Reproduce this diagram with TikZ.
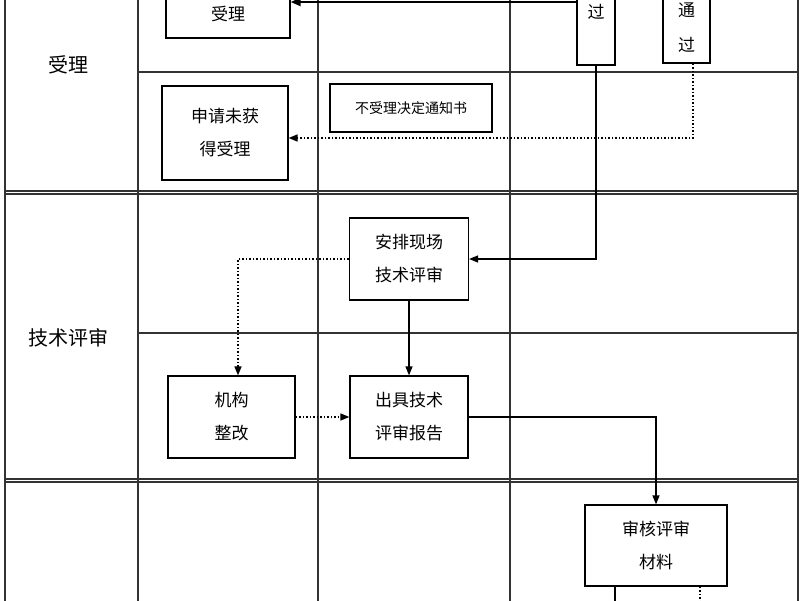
\documentclass[tikz,border=0pt]{standalone}
\usepackage{fontspec}
\setmainfont{Noto Sans CJK SC}
\usetikzlibrary{arrows.meta}
\begin{document}
\begin{tikzpicture}[x=1pt,y=-1pt,
  grid/.style={line width=1.2pt,black!80},
  box/.style={draw,line width=1.2pt,align=center,font=\fontsize{17}{33}\selectfont,inner sep=0pt},
  txt/.style={font=\fontsize{17}{33}\selectfont,inner sep=0pt},
  lane/.style={font=\fontsize{20}{24}\selectfont},
  sol/.style={line width=1.2pt,-{Triangle[length=9pt,width=7pt]}},
  dot/.style={line width=1.5pt,dotted,-{Triangle[length=9pt,width=7pt]}}]
\useasboundingbox (0,0) rectangle (800,600);
\fill[white] (0,0) rectangle (800,600);
% grid
\draw[grid] (5,-5) -- (5,605);
\foreach \x in {138,318,510}{\draw[grid] (\x,-5) -- (\x,605);}
\draw[grid] (798,-5) -- (798,605);
\draw[grid] (138,72) -- (798,72);
\draw[grid] (138,333) -- (798,333);
\draw[grid] (5,191) -- (798,191);
\draw[grid] (5,194) -- (798,194);
\draw[grid] (5,479) -- (798,479);
\draw[grid] (5,482) -- (798,482);
% lanes
\node[lane] (l1) at (68,65) {受理};
\node[lane] (l2) at (68,338) {技术评审};
% boxes
\node[box,fill=white,minimum width=124pt,minimum height=58pt] (sl) at (228,9) {};
\node[txt] (slt) at (228,14) {受理};
\node[box,fill=white,minimum width=38pt,minimum height=90pt] (guo) at (596,20) {};
\node[txt] (guot) at (596,12) {过};
\node[box,fill=white,minimum width=47pt,minimum height=90pt] (tg) at (686.5,18) {};
\node[txt] (tgt1) at (686.5,10) {通};
\node[txt] (tgt2) at (686.5,45) {过};
\node[box,minimum width=126pt,minimum height=94pt] (wsl) at (225,133) {申请未获\\得受理};
\node[box,minimum width=162pt,minimum height=48pt,font=\fontsize{14}{16}\selectfont] (tz) at (411,108) {不受理决定通知书};
\node[box,minimum width=119pt,minimum height=82pt] (ap) at (409,259) {安排现场\\技术评审};
\node[box,minimum width=127pt,minimum height=82pt] (jg) at (231.5,417) {机构\\整改};
\node[box,minimum width=118pt,minimum height=82pt] (cj) at (409,417) {出具技术\\评审报告};
\node[box,minimum width=142pt,minimum height=81pt] (sh) at (656,545.5) {审核评审\\材料};
% connectors
\coordinate (c0) at (577,2);
\draw[line width=2.2pt,-{Triangle[length=10pt,width=8pt]}] (c0) -- (sl.east |- c0);
\draw[sol] (guo.south) |- (ap.east);
\draw[dot] (tg.south -| 693,0) |- (wsl.east |- 0,138);
\draw[dot] (ap.west) -| (jg.north -| 238,0);
\draw[sol] (ap.south) -- (cj.north);
\draw[dot] (jg.east) -- (cj.west);
\draw[sol] (cj.east) -| (sh.north);
\coordinate (b1) at (615,601);
\coordinate (b2) at (700,601);
\draw[line width=1.2pt] (sh.south -| b1) -- (b1);
\draw[line width=1.5pt,dotted] (sh.south -| b2) -- (b2);
\end{tikzpicture}
\end{document}
